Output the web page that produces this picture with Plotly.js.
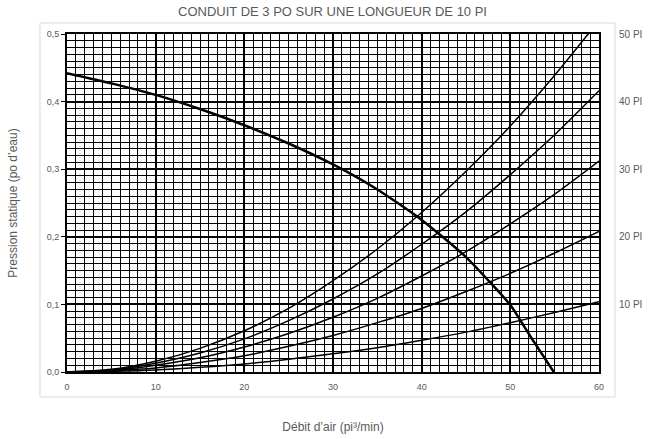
<!DOCTYPE html>
<html>
<head>
<meta charset="utf-8">
<script src="https://cdn.plot.ly/plotly-3.0.1.min.js"></script>
<style>html,body{margin:0;padding:0;background:#fff;}#chart{width:652px;height:439px;}</style>
</head>
<body>
<div id="chart"></div>
<script>
// Débit d'air (pi³/min)
const flow = [0, 5, 10, 15, 20, 25, 30, 35, 40, 45, 50, 55, 60];
// Pertes de charge du conduit (po d'eau) pour chaque longueur
const duct10 = [0, 0.001, 0.003, 0.007, 0.012, 0.019, 0.027, 0.036, 0.047, 0.059, 0.073, 0.088, 0.104];
const duct20 = [0, 0.002, 0.006, 0.014, 0.024, 0.038, 0.054, 0.073, 0.094, 0.119, 0.146, 0.176, 0.208];
const duct30 = [0, 0.002, 0.010, 0.021, 0.037, 0.057, 0.081, 0.109, 0.142, 0.178, 0.219, 0.263, 0.312];
const duct40 = [0, 0.003, 0.013, 0.028, 0.049, 0.076, 0.108, 0.145, 0.189, 0.237, 0.292, 0.351, 0.416];
const duct50 = [0, 0.004, 0.016, 0.035, 0.061, 0.094, 0.135, 0.182, 0.236, 0.297, 0.364, 0.439, 0.520];
// Courbe du ventilateur
const fanFlow = [0, 5, 10, 15, 20, 25, 30, 35, 40, 45, 50, 51.1, 52.5, 54.9];
const fanPressure = [0.442, 0.427, 0.410, 0.389, 0.365, 0.338, 0.307, 0.270, 0.225, 0.170, 0.099, 0.077, 0.048, 0];
// Étiquettes
const rightTickVals = [0.1, 0.2, 0.3, 0.4, 0.5];
const rightTickText = ['10 PI', '20 PI', '30 PI', '40 PI', '50 PI'];

const gray = '#595959';
const font = {family: 'Liberation Sans, Arial, sans-serif', color: gray};

const ductSeries = [duct10, duct20, duct30, duct40, duct50];
const traces = ductSeries.map((vals, i) => ({
  x: flow, y: vals, type: 'scatter', mode: 'lines',
  line: {color: '#000', width: 1.5, shape: 'spline', smoothing: 0.8},
  name: rightTickText[i], hoverinfo: 'x+y'
}));
traces.push({
  x: fanFlow, y: fanPressure, type: 'scatter', mode: 'lines',
  line: {color: '#000', width: 2.5, shape: 'spline', smoothing: 0.6},
  name: 'Ventilateur'
});
// invisible trace for right axis
traces.push({x: [0], y: [0], yaxis: 'y2', mode: 'markers', marker: {opacity: 0}, showlegend: false, hoverinfo: 'skip'});

const layout = {
  width: 652, height: 439,
  margin: {l: 67, r: 53, t: 34, b: 67},
  paper_bgcolor: '#fff', plot_bgcolor: '#fff',
  showlegend: false,
  separators: ', ',
  font: Object.assign({size: 9}, font),
  title: {text: 'CONDUIT DE 3 PO SUR UNE LONGUEUR DE 10 PI', font: Object.assign({size: 13}, font),
          x: 0.51, xanchor: 'center', y: 0.975, yanchor: 'middle'},
  xaxis: {
    range: [0, 60], dtick: 10, tick0: 0,
    showgrid: true, gridcolor: '#000', gridwidth: 2,
    minor: {dtick: 1, showgrid: true, gridcolor: '#000', gridwidth: 1},
    zeroline: false, showline: true, mirror: true, linecolor: '#000', linewidth: 2,
    ticks: '', ticklabelstandoff: 5,
    tickfont: Object.assign({size: 9}, font),
    title: {text: 'Débit d\u2019air (pi³/min)', font: Object.assign({size: 12}, font), standoff: 32}
  },
  yaxis: {
    range: [0, 0.5], dtick: 0.1, tick0: 0, tickformat: '.1f',
    showgrid: true, gridcolor: '#000', gridwidth: 2,
    minor: {dtick: 0.01, showgrid: true, gridcolor: '#000', gridwidth: 1},
    zeroline: false, showline: true, mirror: true, linecolor: '#000', linewidth: 2,
    ticks: 'outside', ticklen: 4, tickcolor: '#000', tickwidth: 1,
    tickfont: Object.assign({size: 9}, font),
    title: {text: 'Pression statique (po d\u2019eau)', font: Object.assign({size: 12}, font), standoff: 26}
  },
  yaxis2: {
    overlaying: 'y', side: 'right', range: [0, 0.5],
    tickvals: rightTickVals, ticktext: rightTickText,
    showgrid: false, zeroline: false, showline: false, ticks: '',
    ticklabelstandoff: 19,
    tickfont: Object.assign({size: 10}, font)
  },
  shapes: [{
    type: 'rect', xref: 'paper', yref: 'paper',
    x0: -0.0508, x1: 1.030, y0: -0.074, y1: 1.0325,
    line: {color: '#d9d9d9', width: 1}, layer: 'below'
  }]
};

Plotly.newPlot('chart', traces, layout, {displayModeBar: false, staticPlot: true});
</script>
</body>
</html>
